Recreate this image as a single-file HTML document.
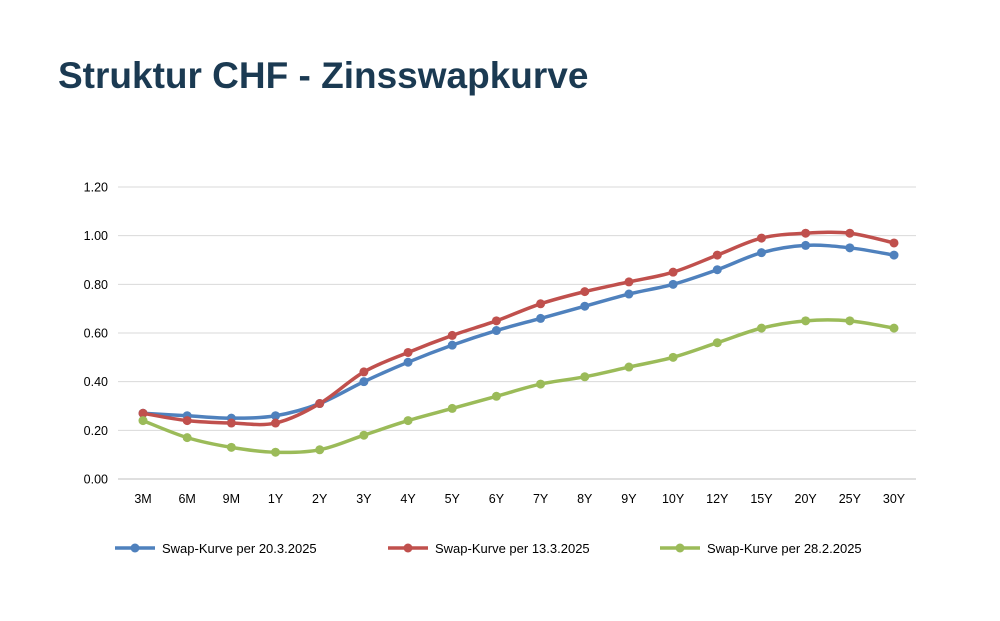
<!DOCTYPE html>
<html><head><meta charset="utf-8"><style>
body{margin:0;background:#fff;width:1000px;height:621px;overflow:hidden;font-family:"Liberation Sans",sans-serif}
h1{position:absolute;left:58px;top:55px;margin:0;font-size:37px;font-weight:bold;color:#1b3a52;letter-spacing:0px}
</style></head><body>
<h1>Struktur CHF - Zinsswapkurve</h1>
<svg id="c" width="1000" height="621" style="position:absolute;left:0;top:0"></svg>
<script>
const s=document.getElementById('c');let h='';
const y0=479,py=48.67/0.2,x0=143,dx=751/17;
const Y=v=>y0-v*py,X=i=>x0+i*dx;
for(let k=0;k<=6;k++){const y=Y(k*0.2);h+=`<line x1="118" x2="916" y1="${y}" y2="${y}" stroke="${k?'#d9d9d9':'#bfbfbf'}" stroke-width="1"/>`;
h+=`<text x="108" y="${y+4.5}" text-anchor="end" font-size="12.5" fill="#000">${(k*0.2).toFixed(2)}</text>`;}
const lab=['3M','6M','9M','1Y','2Y','3Y','4Y','5Y','6Y','7Y','8Y','9Y','10Y','12Y','15Y','20Y','25Y','30Y'];
lab.forEach((l,i)=>h+=`<text x="${X(i)}" y="503" text-anchor="middle" font-size="12.5">${l}</text>`);
const D=[['#4f81bd',[.27,.26,.25,.26,.31,.40,.48,.55,.61,.66,.71,.76,.80,.86,.93,.96,.95,.92]],
['#c0504d',[.27,.24,.23,.23,.31,.44,.52,.59,.65,.72,.77,.81,.85,.92,.99,1.01,1.01,.97]],
['#9bbb59',[.24,.17,.13,.11,.12,.18,.24,.29,.34,.39,.42,.46,.50,.56,.62,.65,.65,.62]]];
D.forEach(([c,v])=>{const p=v.map((a,i)=>[X(i),Y(a)]);let d=`M${p[0]}`;
for(let i=0;i<p.length-1;i++){const a=p[Math.max(i-1,0)],b=p[i],e=p[i+1],f=p[Math.min(i+2,p.length-1)];
d+=`C${b[0]+(e[0]-a[0])/6},${b[1]+(e[1]-a[1])/6} ${e[0]-(f[0]-b[0])/6},${e[1]-(f[1]-b[1])/6} ${e[0]},${e[1]}`;}
h+=`<path d="${d}" fill="none" stroke="${c}" stroke-width="3.5"/>`;
p.forEach(q=>h+=`<circle cx="${q[0]}" cy="${q[1]}" r="4.5" fill="${c}"/>`);});
const L=[[115,'Swap-Kurve per 20.3.2025'],[388,'Swap-Kurve per 13.3.2025'],[660,'Swap-Kurve per 28.2.2025']];
L.forEach(([x,t],i)=>{const c=D[i][0];h+=`<line x1="${x}" x2="${x+40}" y1="548" y2="548" stroke="${c}" stroke-width="3.5"/><circle cx="${x+20}" cy="548" r="4.5" fill="${c}"/><text x="${x+47}" y="553" font-size="13">${t}</text>`;});
s.innerHTML=h;
</script>
</body></html>
